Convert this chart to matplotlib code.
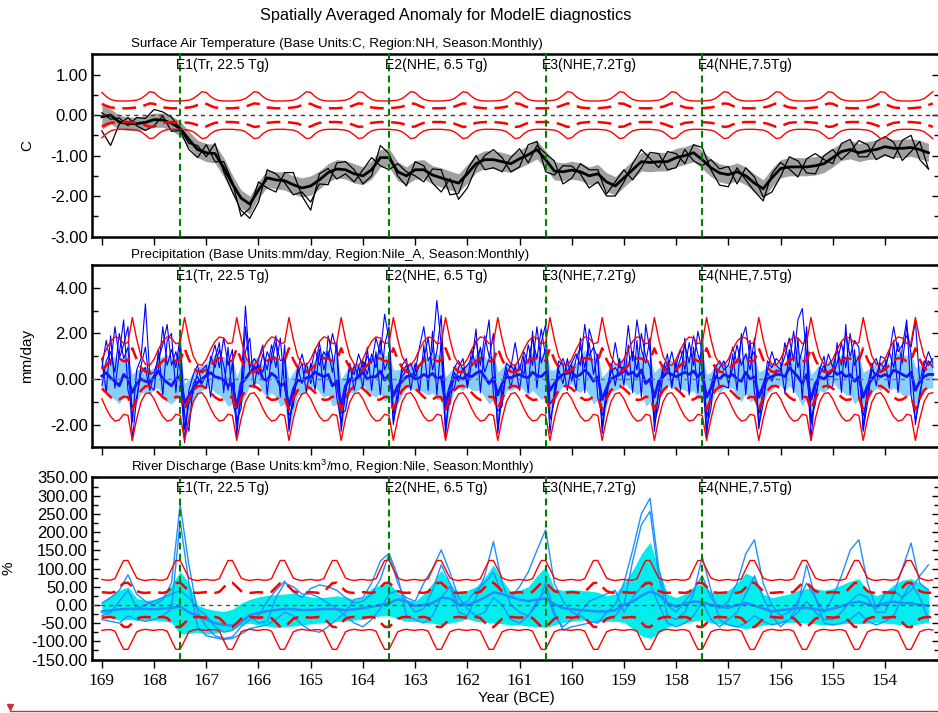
import numpy as np
import matplotlib
matplotlib.use("Agg")
from matplotlib import pyplot as plt
from matplotlib.lines import Line2D
from matplotlib.ticker import MultipleLocator, FormatStrFormatter

plt.rcParams['font.family'] = ['Liberation Sans', 'DejaVu Sans']
plt.rcParams['mathtext.fontset'] = 'custom'
plt.rcParams['mathtext.rm'] = 'Liberation Sans'
plt.rcParams['mathtext.default'] = 'regular'

# ---- axis / annotation data ----
year_ticks = [169, 168, 167, 166, 165, 164, 163, 162, 161, 160, 159, 158, 157, 156, 155, 154]
eruption_years = [167.5, 163.5, 160.5, 157.5]
eruption_labels = ['E1(Tr, 22.5 Tg)', 'E2(NHE, 6.5 Tg)', 'E3(NHE,7.2Tg)', 'E4(NHE,7.5Tg)']

# monthly control-run spread (Jan..Dec), 1 and 2 sigma
sat_sd1 = [0.28, 0.23, 0.19, 0.18, 0.17, 0.17, 0.17, 0.18, 0.19, 0.21, 0.25, 0.29]
sat_sd2 = [0.56, 0.46, 0.39, 0.36, 0.35, 0.35, 0.35, 0.36, 0.37, 0.41, 0.49, 0.58]
pr_sd1 = [0.42, 0.6, 0.8, 0.92, 0.9, 0.78, 0.8, 1.35, 0.85, 0.5, 0.32, 0.3]
pr_sd2 = [0.87, 1.3, 1.65, 1.85, 1.8, 1.55, 1.6, 2.7, 1.75, 1.0, 0.65, 0.6]
dq_sd1 = [35, 34, 33, 36, 48, 60, 61, 50, 38, 34, 33, 34]
dq_sd2 = [70, 68, 68, 72, 98, 122, 122, 98, 74, 69, 67, 69]

# ---- surface air temperature, every 2 months (C) ----
sat_mean = [
    -0.04, 0.0, -0.17, -0.21, -0.21, -0.18,
    -0.11, -0.12, -0.2, -0.33, -0.6, -0.85,
    -0.93, -0.95, -1.3, -1.7, -2.05, -2.2,
    -1.85, -1.55, -1.6, -1.62, -1.72, -1.8,
    -1.75, -1.6, -1.42, -1.33, -1.35, -1.45,
    -1.5, -1.35, -1.05, -1.05, -1.4, -1.5,
    -1.35, -1.35, -1.48, -1.55, -1.62, -1.68,
    -1.45, -1.2, -1.1, -1.1, -1.15, -1.2,
    -1.08, -0.98, -0.85, -1.1, -1.38, -1.4,
    -1.36, -1.4, -1.5, -1.45, -1.65, -1.75,
    -1.55, -1.35, -1.15, -1.17, -1.15, -1.15,
    -1.05, -1.0, -0.93, -1.1, -1.3, -1.43,
    -1.47, -1.4, -1.5, -1.68, -1.82, -1.55,
    -1.32, -1.28, -1.28, -1.28, -1.25, -1.2,
    -1.05, -0.9, -0.85, -0.93, -0.88, -0.85,
    -0.78, -0.82, -0.82, -0.8, -0.85, -0.93,
]
sat_hi = [
    0.3, 0.15, 0.0, -0.05, -0.05, -0.02,
    0.05, 0.05, -0.02, -0.15, -0.4, -0.62,
    -0.7, -0.72, -1.05, -1.48, -1.85, -2.0,
    -1.65, -1.35, -1.4, -1.4, -1.5, -1.55,
    -1.5, -1.38, -1.2, -1.1, -1.12, -1.2,
    -1.28, -1.12, -0.85, -0.82, -1.15, -1.28,
    -1.12, -1.1, -1.25, -1.3, -1.38, -1.45,
    -1.22, -0.98, -0.88, -0.88, -0.92, -0.98,
    -0.86, -0.75, -0.62, -0.88, -1.15, -1.18,
    -1.14, -1.18, -1.28, -1.22, -1.42, -1.52,
    -1.32, -1.12, -0.92, -0.94, -0.92, -0.92,
    -0.82, -0.78, -0.7, -0.88, -1.08, -1.2,
    -1.25, -1.18, -1.28, -1.45, -1.6, -1.32,
    -1.1, -1.05, -1.05, -1.05, -1.02, -0.98,
    -0.82, -0.68, -0.62, -0.7, -0.65, -0.62,
    -0.55, -0.6, -0.6, -0.58, -0.62, -0.7,
]
sat_lo = [
    -0.35, -0.22, -0.35, -0.38, -0.38, -0.36,
    -0.3, -0.3, -0.38, -0.52, -0.8, -1.05,
    -1.15, -1.18, -1.52, -1.92, -2.3, -2.45,
    -2.05, -1.78, -1.82, -1.85, -1.95, -2.02,
    -1.98, -1.82, -1.65, -1.55, -1.58, -1.68,
    -1.72, -1.58, -1.28, -1.28, -1.62, -1.72,
    -1.58, -1.58, -1.7, -1.78, -1.85, -1.9,
    -1.68, -1.42, -1.32, -1.32, -1.38, -1.42,
    -1.3, -1.2, -1.08, -1.32, -1.6, -1.62,
    -1.58, -1.62, -1.72, -1.68, -1.88, -1.98,
    -1.78, -1.58, -1.38, -1.4, -1.38, -1.38,
    -1.28, -1.22, -1.15, -1.32, -1.52, -1.65,
    -1.7, -1.62, -1.72, -1.9, -2.05, -1.78,
    -1.55, -1.5, -1.5, -1.5, -1.48, -1.42,
    -1.28, -1.12, -1.08, -1.15, -1.1, -1.08,
    -1.0, -1.05, -1.05, -1.02, -1.08, -1.15,
]
sat_m1 = [
    0.06, -0.1, -0.07, -0.26, -0.06, -0.08,
    0.14, 0.08, -0.05, -0.33, -0.7, -0.75,
    -1.03, -0.7, -1.4, -1.9, -2.35, -2.55,
    -2.15, -1.35, -1.45, -1.67, -1.97, -1.9,
    -2.15, -1.7, -1.72, -1.18, -1.15, -1.35,
    -1.7, -1.5, -0.75, -0.95, -1.5, -1.75,
    -1.15, -1.25, -1.68, -1.9, -1.57, -2.08,
    -1.8, -1.3, -1.0, -0.85, -1.05, -1.4,
    -1.28, -0.73, -0.65, -1.4, -1.48, -1.25,
    -1.26, -1.45, -1.8, -1.65, -2.0, -2.0,
    -1.65, -1.2, -0.85, -1.07, -1.3, -0.9,
    -0.95, -1.2, -0.73, -0.8, -1.35, -1.73,
    -1.77, -1.3, -1.6, -1.88, -2.12, -1.45,
    -1.17, -1.33, -1.53, -1.08, -0.95, -1.1,
    -1.2, -0.7, -0.6, -1.03, -1.03, -0.65,
    -0.53, -0.67, -1.12, -0.9, -0.65, -1.33,
]
sat_m2 = [
    -0.39, -0.75, -0.22, -0.06, -0.26, -0.38,
    -0.26, -0.02, -0.4, -0.38, -0.85, -1.05,
    -0.73, -1.15, -1.15, -1.65, -2.5, -2.3,
    -1.65, -1.8, -1.9, -1.42, -1.42, -2.0,
    -2.35, -1.45, -1.32, -1.58, -1.45, -1.65,
    -1.35, -1.05, -1.25, -1.35, -1.2, -1.4,
    -1.5, -1.65, -1.33, -1.35, -1.97, -1.93,
    -1.35, -1.0, -1.35, -1.3, -1.4, -1.05,
    -0.83, -1.18, -0.75, -0.95, -1.13, -1.7,
    -1.56, -1.2, -1.35, -1.35, -1.95, -1.65,
    -1.35, -1.6, -1.3, -0.92, -0.95, -1.35,
    -1.3, -0.85, -1.13, -1.25, -1.1, -1.33,
    -1.27, -1.7, -1.3, -1.53, -2.02, -1.9,
    -1.52, -1.03, -1.13, -1.43, -1.45, -1.0,
    -0.85, -1.1, -0.9, -0.63, -0.73, -1.1,
    -0.98, -1.07, -0.62, -0.5, -1.1, -1.33,
]

# ---- Nile_A precipitation, monthly, one row per year (mm/day) ----
pr_mean = [
    0.13, 0.28, 0.05, -0.1, -0.3, 0.2, 0.0, -0.6, -0.2, 0.0, -0.1, -0.15,
    0.1, 0.35, 0.0, -0.15, -0.3, 0.0, 0.13, -1.05, -0.75, -0.4, -0.15, 0.0,
    0.15, 0.28, 0.1, 0.05, -0.05, -0.3, -0.2, -1.27, -0.2, 0.0, 0.28, 0.45,
    0.57, 0.0, -0.05, 0.25, 0.1, -0.3, -0.2, -1.2, -0.45, -0.05, -0.1, 0.05,
    0.1, 0.3, 0.2, 0.1, 0.2, -0.3, -0.1, -1.2, -0.3, 0.0, -0.05, 0.1,
    0.3, 0.0, 0.1, 0.1, 0.35, -0.05, 0.2, -0.75, -0.3, -0.1, 0.1, 0.15,
    0.0, 0.05, 0.2, 0.1, 0.25, 0.0, 0.1, -1.1, -0.35, 0.05, 0.1, 0.0,
    0.2, 0.1, 0.25, 0.35, 0.1, -0.2, 0.05, -0.7, -0.2, 0.1, 0.05, 0.15,
    0.2, 0.1, 0.05, 0.3, 0.15, 0.1, 0.3, -0.5, -0.2, 0.05, 0.2, 0.25,
    0.3, 0.1, 0.2, 0.4, 0.2, -0.1, 0.1, -0.9, -0.4, 0.0, 0.1, 0.2,
    0.5, 0.2, 0.3, 0.1, 0.4, -0.2, 0.0, -0.8, -0.1, 0.1, 0.3, 0.2,
    0.1, 0.2, 0.3, 0.2, 0.35, 0.1, 0.3, -0.8, -0.4, 0.1, 0.0, 0.2,
    0.1, 0.2, 0.0, -0.1, 0.3, 0.0, 0.1, -0.8, -0.3, 0.0, 0.1, 0.2,
    0.2, 0.1, 0.5, 0.3, 0.1, -0.2, 0.2, -0.9, -0.2, 0.1, 0.0, 0.2,
    0.4, 0.2, 0.3, 0.1, 0.2, -0.1, 0.1, -0.8, -0.3, 0.0, 0.2, 0.1,
    0.2, 0.1, 0.4, 0.3, 0.2, 0.1, 0.3, -0.5, -0.1, 0.1, 0.2, 0.2,
]
pr_hi = [
    0.5, 0.8, 0.9, 1.0, 0.8, 1.0, 0.9, 0.2, 0.4, 0.5, 0.6, 0.4,
    0.5, 0.9, 1.0, 1.1, 0.7, 1.0, 1.1, -0.2, 0.0, 0.3, 0.5, 0.6,
    0.7, 0.9, 1.1, 0.8, 1.0, 0.8, 0.9, 0.1, 0.6, 0.9, 0.8, 0.9,
    1.0, 0.6, 0.8, 1.1, 1.0, 0.7, 0.9, 0.0, 0.3, 0.6, 0.5, 0.6,
    0.6, 0.9, 1.0, 1.2, 1.3, 0.8, 1.0, 0.0, 0.3, 0.6, 0.5, 0.7,
    0.8, 0.7, 1.0, 1.1, 1.3, 1.0, 1.1, 0.4, 0.4, 0.5, 0.6, 0.7,
    0.6, 0.7, 1.1, 0.9, 1.2, 1.1, 1.0, 0.1, 0.3, 0.6, 0.6, 0.5,
    0.7, 0.8, 1.1, 1.3, 1.0, 0.8, 1.2, 0.3, 0.5, 0.7, 0.6, 0.7,
    0.7, 0.7, 0.9, 1.2, 1.1, 1.0, 1.5, 0.4, 0.4, 0.6, 0.7, 0.8,
    0.8, 0.7, 1.0, 1.3, 1.1, 0.9, 1.1, 0.1, 0.3, 0.6, 0.7, 0.8,
    1.0, 0.8, 1.1, 1.0, 1.3, 0.8, 0.9, 0.3, 0.5, 0.7, 0.9, 0.8,
    0.6, 0.8, 1.1, 1.0, 1.2, 1.0, 1.2, 0.2, 0.3, 0.7, 0.6, 0.8,
    0.6, 0.8, 0.8, 0.9, 1.2, 0.9, 1.1, 0.3, 0.4, 0.6, 0.7, 0.7,
    0.7, 0.7, 1.3, 1.1, 1.3, 0.9, 1.2, 0.2, 0.4, 0.7, 0.6, 0.8,
    0.9, 0.8, 1.1, 0.9, 1.2, 1.0, 1.1, 0.3, 0.4, 0.6, 0.8, 0.7,
    0.8, 0.7, 1.2, 1.1, 1.1, 1.0, 1.2, 0.5, 0.6, 0.7, 0.8, 0.9,
]
pr_lo = [
    -0.4, -0.5, -0.8, -0.9, -1.1, -0.7, -0.9, -2.0, -1.0, -0.6, -0.6, -0.7,
    -0.4, -0.4, -0.8, -1.0, -1.1, -0.9, -0.8, -2.6, -2.0, -1.0, -0.7, -0.5,
    -0.4, -0.4, -0.6, -0.7, -0.9, -1.2, -1.1, -2.5, -1.1, -0.7, -0.3, -0.2,
    -0.2, -0.6, -0.8, -0.6, -0.8, -1.2, -1.1, -2.3, -1.4, -0.7, -0.7, -0.5,
    -0.4, -0.3, -0.6, -0.8, -0.7, -1.2, -1.1, -2.3, -1.2, -0.6, -0.6, -0.5,
    -0.2, -0.6, -0.7, -0.8, -0.6, -1.0, -0.8, -1.9, -1.1, -0.7, -0.4, -0.4,
    -0.5, -0.5, -0.6, -0.7, -0.6, -0.9, -0.9, -2.4, -1.2, -0.5, -0.4, -0.5,
    -0.3, -0.5, -0.5, -0.5, -0.8, -1.1, -0.9, -1.9, -1.0, -0.5, -0.5, -0.4,
    -0.3, -0.5, -0.7, -0.5, -0.7, -0.9, -0.8, -1.8, -1.0, -0.6, -0.3, -0.3,
    -0.2, -0.5, -0.6, -0.4, -0.7, -1.1, -0.9, -2.2, -1.2, -0.6, -0.5, -0.4,
    -0.1, -0.4, -0.5, -0.7, -0.5, -1.2, -1.0, -2.1, -1.0, -0.5, -0.3, -0.4,
    -0.4, -0.4, -0.5, -0.6, -0.5, -0.9, -0.8, -2.1, -1.2, -0.5, -0.6, -0.4,
    -0.4, -0.4, -0.8, -1.0, -0.6, -1.0, -0.9, -2.0, -1.1, -0.6, -0.5, -0.3,
    -0.3, -0.5, -0.3, -0.5, -0.8, -1.2, -0.8, -2.1, -1.0, -0.5, -0.6, -0.4,
    -0.1, -0.4, -0.5, -0.7, -0.7, -1.1, -0.9, -2.0, -1.1, -0.6, -0.4, -0.5,
    -0.3, -0.5, -0.4, -0.5, -0.7, -0.8, -0.6, -1.6, -0.8, -0.5, -0.4, -0.4,
]
pr_m1 = [
    0.5, 1.7, 0.6, 2.3, 0.9, 1.5, 2.3, -1.9, 0.4, 0.9, 3.3, 0.2,
    0.3, 0.9, 1.5, 2.4, 0.6, 1.2, 0.4, -2.8, -0.5, 0.2, 0.6, -0.2,
    0.2, 0.8, 1.5, 0.5, 1.8, 0.6, 1.3, -2.5, -0.3, 3.2, 0.5, 0.9,
    0.6, 0.3, 1.2, 0.7, 1.6, 0.8, 0.9, -2.3, -0.6, 0.4, 1.1, 0.3,
    0.4, 1.3, 0.6, 1.2, 0.9, 2.0, 1.2, -2.3, -0.4, 0.5, 0.2, 1.1,
    0.5, 1.0, 0.7, 1.8, 1.1, 2.85, 1.7, -2.0, -0.4, 0.3, 0.6, 0.2,
    0.3, 1.4, 2.3, 0.8, 1.2, 3.45, 1.5, -2.5, -0.3, 0.5, 0.8, 0.4,
    0.6, 0.9, 1.7, 0.6, 1.9, 1.0, 0.8, -2.2, -0.3, 0.7, 0.5, 1.6,
    0.4, 1.2, 0.7, 1.8, 0.9, 2.2, 1.0, -2.4, -0.5, 0.5, 0.9, 0.3,
    0.7, 1.1, 0.6, 2.4, 1.0, 1.4, 0.9, -2.1, -0.4, 0.3, 1.6, 0.5,
    0.5, 2.35, 0.8, 2.6, 1.3, 0.7, 1.8, -2.3, -0.5, 0.6, 0.4, 1.2,
    0.3, 0.9, 1.5, 0.7, 1.9, 1.1, 0.5, -2.6, -0.3, 0.5, 0.8, 0.4,
    0.6, 1.4, 0.7, 1.7, 2.3, 0.9, 1.2, -2.2, -0.2, 0.4, 1.2, 0.6,
    0.4, 1.0, 1.8, 0.8, 2.6, 3.1, 1.0, -2.7, -0.4, 0.5, 0.3, 1.1,
    0.5, 1.3, 0.6, 2.0, 1.0, 1.7, 1.4, -2.2, -0.3, 0.6, 0.9, 0.3,
    0.6, 1.1, 2.3, 1.2, 1.5, 1.9, 1.4, 2.55, -0.2, 0.8, 0.6, 0.9,
]
pr_m2 = [
    -0.3, 0.8, 1.2, 0.3, 2.0, 0.9, 1.4, -2.7, -0.8, 0.3, 0.5, -0.5,
    0.2, 0.4, 2.3, 0.6, 1.3, 0.5, 1.9, -1.6, -2.3, -0.2, 0.1, -0.3,
    -0.4, 1.0, 0.5, 1.3, 0.6, -0.5, 0.7, -2.0, -0.9, 2.3, 0.3, 0.6,
    0.2, 1.1, 0.4, 1.5, 0.5, 1.8, -0.3, -1.6, -1.2, 0.5, -0.2, 0.7,
    -0.2, 0.5, 1.6, 0.4, 1.2, 0.3, 1.6, -1.5, -1.4, -0.2, 0.6, 0.1,
    0.8, 0.2, 1.1, 0.5, 1.7, 0.4, 0.9, -1.9, -0.8, 0.1, 0.4, 0.7,
    0.1, 0.6, 0.9, 1.8, 0.4, 1.2, 2.8, -1.3, -1.1, 0.3, -0.1, 0.5,
    -0.2, 1.3, 0.5, 1.4, 0.3, 0.9, 2.0, -2.4, -0.7, 0.2, 0.6, 0.3,
    0.5, 0.2, 1.5, 0.6, 2.3, 0.7, 1.3, -1.8, -1.0, 0.4, -0.2, 0.9,
    -0.1, 0.9, 1.4, 0.5, 1.6, 0.2, 1.1, -2.4, -0.6, 0.3, 0.5, 0.2,
    0.3, 0.6, 1.2, 0.4, 2.0, 1.0, 0.5, -1.9, -1.2, 0.2, 0.7, -0.2,
    0.6, 1.3, 0.4, 1.6, 0.6, 2.1, 1.2, -1.7, -0.9, 0.0, 0.5, 0.8,
    -0.2, 0.5, 1.5, 0.6, 1.1, 0.4, 1.8, -2.1, -1.1, 0.3, -0.1, 0.4,
    0.3, 1.6, 0.6, 2.1, 0.5, 1.3, 2.1, -2.0, -0.8, 0.2, 0.6, 0.1,
    0.1, 0.7, 1.6, 0.5, 2.0, 0.6, 1.0, -2.3, -1.0, 0.4, 0.2, 0.7,
    0.4, 1.2, 0.5, 1.6, 0.7, 2.3, 1.1, -2.0, -0.6, 0.3, 0.8, 0.5,
]
pr_m3 = [
    0.9, -0.6, 1.9, -0.4, 1.1, 2.6, -0.5, -1.2, -1.0, 0.6, 1.4, -0.3,
    -0.5, 1.3, -0.7, 1.7, 2.0, -0.6, 1.6, -2.2, -1.1, -0.6, 0.3, 0.4,
    0.6, -0.8, 0.9, 1.6, -0.6, 1.4, -0.9, -1.8, -1.3, 1.2, 1.8, -0.4,
    0.9, 1.5, -0.7, 1.1, 1.9, -0.8, 1.5, -2.0, -0.9, 0.2, 0.7, -0.6,
    0.7, -0.5, 1.3, -0.6, 1.9, 1.0, -0.8, -1.9, -0.7, 0.7, -0.5, 0.6,
    -0.4, 1.4, -0.5, 1.2, -0.7, 1.5, 2.3, -1.5, -1.0, 0.6, 0.9, -0.5,
    0.7, -0.6, 1.5, -0.5, 2.1, -0.7, 1.7, -2.1, -0.6, -0.4, 0.5, 0.9,
    -0.4, 0.7, 2.2, -0.6, 1.4, 2.6, -0.7, -1.4, -1.2, 0.5, -0.4, 0.6,
    -0.5, 1.0, -0.6, 2.1, -0.4, 1.6, 2.4, -1.1, -0.8, 0.8, 0.6, -0.5,
    0.6, -0.5, 1.8, -0.6, 2.2, 1.5, -0.8, -1.6, -1.0, 0.7, -0.3, 0.9,
    -0.3, 1.5, -0.6, 1.7, -0.8, 2.4, 1.2, -1.7, -0.6, 0.4, 1.1, -0.4,
    0.8, -0.5, 1.8, -0.7, 1.4, -0.6, 2.1, -2.2, -1.3, 0.6, -0.4, -0.3,
    -0.4, 1.1, -0.5, 2.0, -0.7, 1.7, -0.6, -1.5, -0.9, 0.8, 0.5, 0.9,
    0.7, -0.6, 1.3, -0.6, 1.8, -0.9, 2.3, -1.7, -1.1, 0.4, 1.0, -0.4,
    -0.3, 1.6, -0.6, 2.4, -0.7, 1.3, -0.8, -1.6, -0.8, 0.7, -0.3, 1.0,
    0.9, -0.4, 1.7, -0.6, 1.4, 2.6, -0.7, -1.8, -0.9, 0.6, 1.2, 0.7,
]

# ---- Nile river discharge, every 2 months (% anomaly) ----
dq_mean = [
    -18, -15, -12, -11, -11, -11,
    -12, -10, -8, -5, -20, -30,
    -40, -50, -55, -57, -45, -28,
    -22, -17, -14, -11, -12, -14,
    -14, -12, -11, -12, -14, -12,
    -9, -5, 0, 5, 15, 10,
    -3, 0, 5, 20, 18, 0,
    0, 9, 20, 35, 30, 22,
    15, 10, 15, 18, 2, -9,
    -12, -14, -16, -18, -18, -14,
    0, 9, 25, 37, 28, 5,
    -5, 3, 9, 8, 0, -5,
    -8, 0, 5, -2, -10, -18,
    -14, -12, -9, -8, -12, -16,
    -10, -4, 5, 9, 2, -5,
    5, 9, 5, 5, 0, -2,
]
dq_hi = [
    9, 25, 40, 50, 18, 12,
    15, 25, 55, 92, 60, 0,
    -10, -15, -18, -12, 5, 15,
    22, 26, 28, 30, 32, 28,
    22, 20, 22, 25, 22, 15,
    20, 45, 55, 60, 35, 15,
    10, 30, 60, 95, 60, 30,
    40, 50, 75, 110, 70, 35,
    40, 50, 80, 105, 45, 40,
    42, 40, 38, 35, 25, 30,
    60, 95, 140, 172, 100, 30,
    20, 30, 50, 60, 35, 30,
    40, 60, 88, 75, 30, 20,
    25, 30, 40, 45, 45, 40,
    45, 55, 65, 72, 40, 25,
    35, 55, 68, 72, 60, 45,
]
dq_lo = [
    -25, -35, -42, -40, -42, -42,
    -42, -44, -48, -80, -78, -75,
    -80, -78, -72, -68, -55, -50,
    -55, -58, -62, -60, -58, -55,
    -52, -50, -48, -45, -45, -42,
    -40, -35, -30, -30, -38, -45,
    -45, -48, -50, -55, -50, -45,
    -38, -45, -48, -50, -52, -55,
    -55, -58, -60, -62, -55, -48,
    -45, -42, -42, -44, -45, -45,
    -48, -65, -85, -92, -78, -60,
    -55, -50, -45, -40, -50, -52,
    -55, -62, -65, -62, -55, -52,
    -50, -48, -48, -50, -52, -55,
    -55, -52, -50, -52, -50, -48,
    -50, -52, -55, -55, -52, -48,
]
dq_m1 = [
    5, 20, 40, 83, 30, 10,
    0, 15, 60, 275, 110, -20,
    -60, -85, -92, -88, -60, -40,
    -30, 10, 40, 65, 35, 20,
    45, 55, 50, 40, 20, 5,
    10, 30, 70, 140, 60, 10,
    -20, -10, 40, 110, 60, 0,
    10, 40, 60, 90, 30, 20,
    50, 90, 150, 206, 60, 10,
    -20, -30, -45, -50, -20, 0,
    60, 150, 250, 293, 100, 0,
    -20, 10, 40, 80, 20, -10,
    10, 60, 140, 179, 60, 0,
    -30, -20, 10, 60, 20, -20,
    20, 80, 150, 179, 60, -10,
    30, 40, 20, 40, 80, 110,
]
dq_m2 = [
    -40, -45, -50, -30, -40, -45,
    -40, -30, -10, 230, 60, -60,
    -85, -90, -95, -92, -80, -65,
    -60, -55, -40, -20, -30, -55,
    -70, -75, -60, -40, -20, 15,
    20, 60, 120, 142, 80, -30,
    -40, -50, -30, 20, 50, -20,
    -30, 20, 80, 174, 60, 0,
    -20, -30, 0, 60, -20, -70,
    -60, -55, -50, -45, -40, -30,
    0, 120, 220, 257, 80, -30,
    -40, -20, 30, 133, 40, -40,
    -55, -60, -50, -30, -45, -55,
    -50, -40, 0, 110, 20, -50,
    -55, -50, -40, -20, -45, -55,
    -45, -30, 20, 60, 20, -40,
]
dq_m3 = [
    -30, -20, 10, 40, -10, 0,
    10, 20, 30, 40, 20, -10,
    -30, -60, -75, -70, -50, -30,
    -50, -45, 20, 60, 50, 30,
    30, 20, 5, -10, -30, -50,
    -60, -40, -10, 30, 40, 20,
    10, 60, 100, 151, 90, 20,
    -10, -30, -20, 20, 0, -40,
    -50, -30, 10, 40, -30, -60,
    -40, -20, 10, 20, 30, 40,
    -20, 20, 50, 60, 0, -50,
    -60, -50, -30, 10, -40, -60,
    -40, -20, 30, 80, 20, -30,
    -60, -40, -20, 10, -20, -40,
    -40, -20, 10, 30, 20, -20,
    -20, 30, 100, 170, 60, 40,
]

n_years = len(year_ticks)
t_month = 169 - np.arange(12 * n_years) / 12.0
t_bimon = 169 - np.arange(6 * n_years) / 6.0


def draw_clim(ax, sd1, sd2):
    s1 = np.tile(sd1, n_years)
    s2 = np.tile(sd2, n_years)
    for s in (s2, -s2):
        ax.plot(t_month, s, color='red', lw=1.0, zorder=4)
    for s in (s1, -s1):
        ax.plot(t_month, s, color='red', lw=1.8, ls=(0, (5.5, 3)), zorder=4)


def style_axis(ax, ylim, major, minor, ylabel, label_x, zero_color, show_x):
    ax.set_xlim(169.18, 152.946)
    ax.set_ylim(*ylim)
    ax.set_xticks(year_ticks)
    ax.yaxis.set_major_locator(MultipleLocator(major))
    ax.yaxis.set_minor_locator(MultipleLocator(minor))
    ax.yaxis.set_major_formatter(FormatStrFormatter('%.2f'))
    ax.tick_params(axis='y', which='major', direction='in', left=True, right=True,
                   length=6, width=1, labelsize=12)
    ax.tick_params(axis='y', which='minor', direction='in', left=True, right=True,
                   length=4, width=1)
    ax.tick_params(axis='x', which='both', direction='out', top=False, length=6, width=1,
                   labelbottom=show_x)
    if show_x:
        for lab in ax.get_xticklabels():
            lab.set_family('Liberation Serif')
            lab.set_fontsize(12.5)
    for sp in ax.spines.values():
        sp.set_linewidth(1.8)
    ax.set_ylabel(ylabel, fontsize=11)
    ax.yaxis.set_label_coords(label_x, 0.5)
    ax.axhline(0, color=zero_color, lw=1.0, ls=(0, (3, 3)), zorder=5)
    for ey, el in zip(eruption_years, eruption_labels):
        ax.axvline(ey, color='#008000', lw=1.5, ls=(0, (3.3, 2)), zorder=6)
        ax.text(ey + 0.08, 0.943, el, transform=ax.get_xaxis_transform(),
                fontsize=10, ha='left', va='center', zorder=7)


fig = plt.figure(figsize=(9.38, 7.13), dpi=100)
left, width, height = 0.0986, 0.9035, 0.2553
ax1 = fig.add_axes([left, 0.6683, width, height])
ax2 = fig.add_axes([left, 0.3727, width, height])
ax3 = fig.add_axes([left, 0.0750, width, height])

# surface air temperature
ax1.fill_between(t_bimon, sat_lo, sat_hi, color='#a0a0a0', lw=0, zorder=1)
ax1.plot(t_bimon, sat_m1, color='black', lw=0.9, zorder=2)
ax1.plot(t_bimon, sat_m2, color='black', lw=0.9, zorder=2)
ax1.plot(t_bimon, sat_mean, color='black', lw=2.0, zorder=3)
draw_clim(ax1, sat_sd1, sat_sd2)
style_axis(ax1, (-3.0, 1.5), 1.0, 0.5, 'C', -0.069, '#5a2d0c', False)
ax1.text(0.0454, 1.058, 'Surface Air Temperature (Base Units:C, Region:NH, Season:Monthly)',
         transform=ax1.transAxes, fontsize=9.6, ha='left', va='center')

# precipitation
ax2.fill_between(t_month, pr_lo, pr_hi, color='#87cefa', lw=0, zorder=1)
for m in (pr_m1, pr_m2, pr_m3):
    ax2.plot(t_month, m, color='#0000ff', lw=0.8, zorder=2)
ax2.plot(t_month, pr_mean, color='#1414ff', lw=2.0, zorder=3)
draw_clim(ax2, pr_sd1, pr_sd2)
style_axis(ax2, (-3.0, 5.0), 2.0, 1.0, 'mm/day', -0.069, '#707070', False)
ax2.text(0.0454, 1.057, 'Precipitation (Base Units:mm/day, Region:Nile_A, Season:Monthly)',
         transform=ax2.transAxes, fontsize=9.6, ha='left', va='center')

# river discharge
ax3.fill_between(t_bimon, dq_lo, dq_hi, color='#00eeee', lw=0, zorder=1)
for m in (dq_m1, dq_m2, dq_m3):
    ax3.plot(t_bimon, m, color='#1e90ff', lw=1.0, zorder=2)
ax3.plot(t_bimon, dq_mean, color='#1e90ff', lw=1.8, zorder=3)
draw_clim(ax3, dq_sd1, dq_sd2)
style_axis(ax3, (-150, 350), 50, 25, '%', -0.0905, '#4a5a4a', True)
ax3.set_xlabel('Year (BCE)', fontsize=11, labelpad=2)
ax3.text(0.0454, 1.060, 'River Discharge (Base Units:km$^3$/mo, Region:Nile, Season:Monthly)',
         transform=ax3.transAxes, fontsize=9.6, ha='left', va='center')

fig.text(0.475, 0.978, 'Spatially Averaged Anomaly for ModelE diagnostics',
         fontsize=11.7, ha='center', va='center')

# thin red rule along the bottom edge
fig.add_artist(Line2D([10 / 938, 1.0], [1 - 711 / 713] * 2, color='#cc3333', lw=1.0))
fig.add_artist(Line2D([10 / 938], [1 - 707 / 713], marker='v', color='#cc3333',
                      markersize=5, lw=0))

fig.savefig('out.png', dpi=100)
